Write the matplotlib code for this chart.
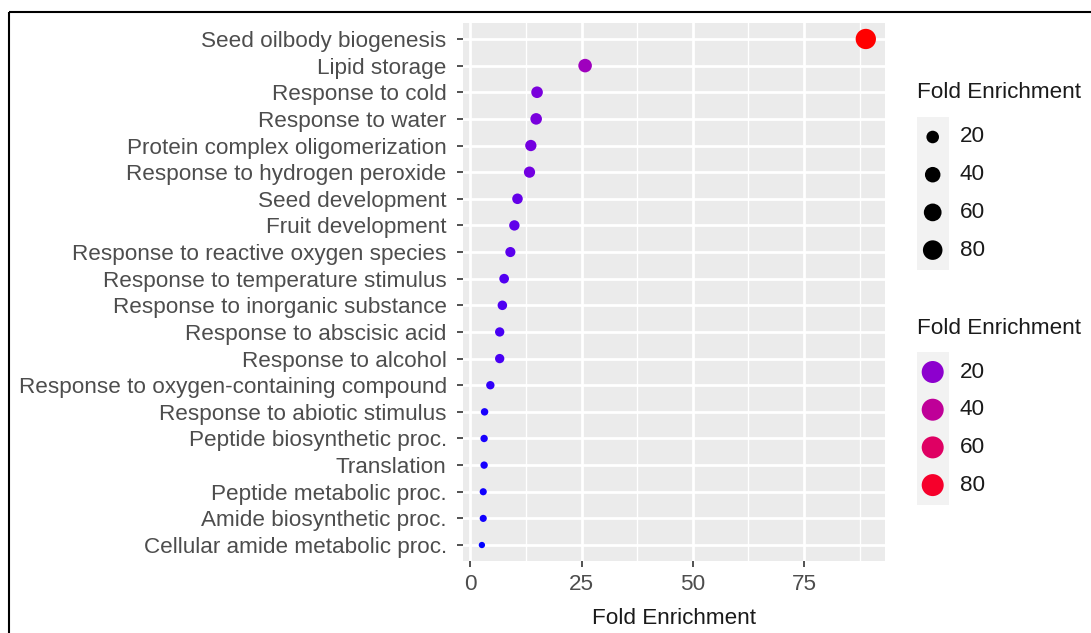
import numpy as np
import matplotlib
matplotlib.use("Agg")
import matplotlib.pyplot as plt
from matplotlib.patches import Rectangle

# GO terms, listed top to bottom as they appear on the axis
terms = [
    "Seed oilbody biogenesis",
    "Lipid storage",
    "Response to cold",
    "Response to water",
    "Protein complex oligomerization",
    "Response to hydrogen peroxide",
    "Seed development",
    "Fruit development",
    "Response to reactive oxygen species",
    "Response to temperature stimulus",
    "Response to inorganic substance",
    "Response to abscisic acid",
    "Response to alcohol",
    "Response to oxygen-containing compound",
    "Response to abiotic stimulus",
    "Peptide biosynthetic proc.",
    "Translation",
    "Peptide metabolic proc.",
    "Amide biosynthetic proc.",
    "Cellular amide metabolic proc.",
]
fold = [88.9, 25.8, 15.0, 14.8, 13.6, 13.3, 10.6, 9.9, 9.0, 7.6,
        7.2, 6.6, 6.6, 4.5, 3.2, 3.1, 3.1, 2.9, 2.9, 2.6]
legend_breaks = [20, 40, 60, 80]
x_ticks = [0, 25, 50, 75]

W, H, DPI = 1091, 633, 100
FONT = "Liberation Sans"
FS = 16.2

# sRGB <-> CIELAB, for a ggplot-style blue -> red gradient
WHITE = np.array([0.95047, 1.0, 1.08883])
M = np.array([[0.4124, 0.3576, 0.1805],
              [0.2126, 0.7152, 0.0722],
              [0.0193, 0.1192, 0.9505]])
M_INV = np.linalg.inv(M)


def srgb_to_lab(rgb):
    c = np.asarray(rgb, float)
    lin = np.where(c <= 0.04045, c / 12.92, ((c + 0.055) / 1.055) ** 2.4)
    xyz = M @ lin / WHITE
    d = 6 / 29
    f = np.where(xyz > d ** 3, np.cbrt(xyz), xyz / (3 * d ** 2) + 4 / 29)
    return np.array([116 * f[1] - 16, 500 * (f[0] - f[1]), 200 * (f[1] - f[2])])


def lab_to_srgb(lab):
    L, a, b = lab
    fy = (L + 16) / 116
    f = np.array([fy + a / 500, fy, fy - b / 200])
    d = 6 / 29
    xyz = np.where(f > d, f ** 3, 3 * d ** 2 * (f - 4 / 29)) * WHITE
    lin = M_INV @ xyz
    lin = np.clip(lin, 0, 1)
    c = np.where(lin <= 0.0031308, 12.92 * lin, 1.055 * lin ** (1 / 2.4) - 0.055)
    return tuple(np.clip(c, 0, 1))


LOW = srgb_to_lab([0, 0, 1])
HIGH = srgb_to_lab([1, 0, 0])
vmin, vmax = min(fold), max(fold)


def colour_of(v):
    t = (v - vmin) / (vmax - vmin)
    return lab_to_srgb(LOW + (HIGH - LOW) * t)


def size_of(v):
    # area scale: ggplot size 1..6, converted to a marker area in pt^2
    t = np.clip((v - vmin) / (vmax - vmin), 0, 1)
    size = 1 + 5 * np.sqrt(t)
    diam_px = size * 2.8 + 3.5
    return (diam_px * 72 / DPI) ** 2


fig = plt.figure(figsize=(W / DPI, H / DPI), dpi=DPI, facecolor="white")

# panel
left, right, top, bottom = 462.7, 885, 23, 561
ax = fig.add_axes([left / W, 1 - bottom / H, (right - left) / W, (bottom - top) / H])
ax.set_facecolor("#EBEBEB")
for s in ax.spines.values():
    s.set_visible(False)

ypos = np.arange(len(terms))[::-1]
ax.scatter(fold, ypos, s=[size_of(v) for v in fold],
           c=[colour_of(v) for v in fold], linewidths=0, zorder=3)

span = vmax - vmin
ax.set_xlim(vmin - 0.05 * span, vmax + 0.05 * span)
ax.set_ylim(-0.6, len(terms) - 1 + 0.6)
ax.set_yticks(ypos)
ax.set_yticklabels(terms)
ax.set_xticks(x_ticks)
ax.set_xticks([12.5, 37.5, 62.5, 87.5], minor=True)
ax.grid(True, which="major", color="white", linewidth=2.0, zorder=0)
ax.grid(True, which="minor", axis="x", color="white", linewidth=1.0, zorder=0)
ax.set_axisbelow(True)
ax.tick_params(axis="both", which="major", length=4, width=1.2, color="#333333",
               labelsize=FS, labelcolor="#4D4D4D")
ax.tick_params(axis="y", pad=7.5)
ax.tick_params(axis="x", pad=5.5)
ax.tick_params(which="minor", length=0)
for lab in ax.get_xticklabels() + ax.get_yticklabels():
    lab.set_fontfamily(FONT)
ax.set_xlabel("Fold Enrichment", fontsize=FS, family=FONT, color="#1A1A1A", labelpad=9)

# overlay in pixel coordinates for the legends and the outer frame
ov = fig.add_axes([0, 0, 1, 1], facecolor="none")
ov.set_xlim(0, W)
ov.set_ylim(H, 0)
ov.axis("off")

ov.plot([9, W], [12, 12], color="black", linewidth=1.5, solid_capstyle="butt")
ov.plot([9, 9], [12, H], color="black", linewidth=1.5, solid_capstyle="butt")


def draw_legend(title_y, first_row, use_size):
    step = 37.7
    ov.text(917, title_y, "Fold Enrichment", fontsize=FS, family=FONT,
            color="#1A1A1A", va="center", ha="left")
    n = len(legend_breaks)
    ov.add_patch(Rectangle((917, first_row - 20), 32, step * (n - 1) + 40,
                           facecolor="#F2F2F2", edgecolor="none"))
    rows = first_row + step * np.arange(n)
    if use_size:
        ov.scatter([932.7] * n, rows, s=[size_of(b) for b in legend_breaks],
                   color="black", linewidths=0, zorder=3)
    else:
        ov.scatter([932.7] * n, rows, s=(22 * 72 / DPI) ** 2,
                   c=[colour_of(b) for b in legend_breaks], linewidths=0, zorder=3)
    for yy, b in zip(rows, legend_breaks):
        ov.text(960, yy, str(b), fontsize=FS, family=FONT, color="#1A1A1A",
                va="center", ha="left")


draw_legend(93, 137, True)
draw_legend(329, 372, False)

fig.savefig("out.png", dpi=DPI)
